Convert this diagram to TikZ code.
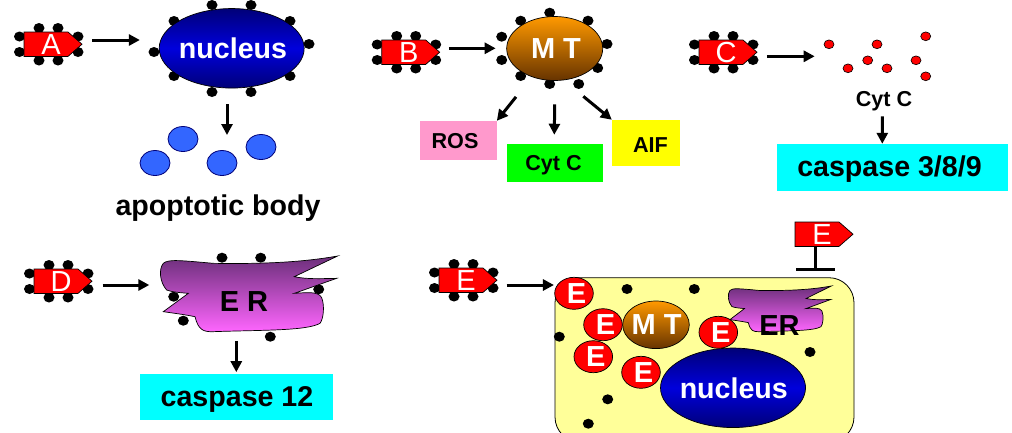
\documentclass[tikz,border=0pt]{standalone}
\usepackage{fontspec}
\setmainfont{Liberation Sans}
\usetikzlibrary{shapes.geometric,arrows.meta}
\newcommand{\fs}[1]{\fontsize{#1}{#1}\selectfont}
\definecolor{tagred}{HTML}{FF0000}
\definecolor{navyedge}{HTML}{000078}
\definecolor{nucmid}{HTML}{0000DC}
\definecolor{mttop}{HTML}{FF9900}
\definecolor{mtbottom}{HTML}{663300}
\definecolor{bodyblue}{HTML}{3366FF}
\definecolor{rospink}{HTML}{FF99CC}
\definecolor{cytgreen}{HTML}{00FF00}
\definecolor{aifyellow}{HTML}{FFFF00}
\definecolor{casecyan}{HTML}{00FFFF}
\definecolor{cellyellow}{HTML}{FFFF99}
\definecolor{ertop}{HTML}{6B2F7A}
\definecolor{erbottom}{HTML}{FF66FF}
\tikzset{
  link/.style={line width=3pt,-{Triangle[length=11pt,width=11pt]}},
  bead/.style={fill=black},
  tagshape/.style={draw=black,line width=0.7pt,fill=tagred},
  tagtext/.style={rectangle,minimum width=58pt,minimum height=24.4pt,inner sep=0pt,text=white,font=\fs{29}},
  nucleusnode/.style={ellipse,draw=black,line width=0.7pt,minimum width=145pt,minimum height=79.5pt,inner sep=0pt,
    top color=navyedge,bottom color=navyedge,middle color=nucmid},
  nucleustext/.style={text=white,font=\bfseries\fs{28.6},inner sep=0pt},
  mtnode/.style={ellipse,draw=black,line width=0.7pt,inner sep=0pt,top color=mttop,bottom color=mtbottom},
  mttext/.style={text=white,font=\bfseries\fs{29},inner sep=0pt},
  body/.style={ellipse,draw=navyedge,line width=0.8pt,fill=bodyblue,minimum width=30pt,minimum height=25pt,inner sep=0pt},
  labelbox/.style={rectangle,inner sep=0pt},
  caption/.style={text=black,font=\bfseries\fs{28.6},inner sep=0pt},
  smallcap/.style={text=black,font=\bfseries\fs{21.6},inner sep=0pt},
  redball/.style={ellipse,draw=black,line width=0.7pt,fill=tagred,minimum width=38.6pt,minimum height=32pt,inner sep=0pt,
    text=white,font=\bfseries\fs{29}},
  erfill/.style={draw=black,line width=0.7pt,top color=ertop,bottom color=erbottom},
  ertext/.style={text=black,font=\bfseries\fs{29},inner sep=0pt},
  cyt/.style={fill=tagred,draw=black,line width=0.6pt}
}
% black beads, each given as (x,y)
\newcommand{\beads}[1]{\foreach \p in {#1}{\fill[bead] \p ellipse [x radius=5.5pt,y radius=5pt];}}
% the eight beads round a tag whose upper left corner is at (#1,#2)
\newcommand{\tagbeads}[2]{\begin{scope}[shift={(#1,#2)}]
  \beads{(-4.5,4.5),(-4.5,20),(15,-4),(34,-4),(15,28.5),(34,28.5),(54,4.5),(54,20)}
\end{scope}}
% a pentagonal red tag: node name, upper left corner x and y, letter
\newcommand{\tagat}[4]{%
  \draw[tagshape,shift={(#2,#3)}] (0,0) -- (44,0) -- (58,12.2) -- (44,24.4) -- (0,24.4) -- cycle;
  \node[tagtext] (#1) at ({#2+29},{#3+12.2}) {\hspace*{-4pt}#4};}
% the endoplasmic reticulum outline; the box spans 533 by 227 units
\newcommand{\erpath}{(10,22) .. controls (25,10) and (50,12) .. (160,22)
  .. controls (300,24) and (420,20) .. (533,0) -- (403,62)
  .. controls (440,70) and (480,68) .. (530,67) -- (403,112)
  .. controls (440,110) and (475,105) .. (485,125)
  .. controls (495,150) and (490,190) .. (480,202)
  .. controls (440,225) and (300,222) .. (160,227)
  .. controls (130,228) and (115,222) .. (105,182)
  .. controls (70,175) and (30,170) .. (10,167) -- (85,112)
  .. controls (60,110) and (35,108) .. (20,102)
  .. controls (0,80) and (-5,40) .. (10,22) -- cycle}
\begin{document}
\begin{tikzpicture}[x=1pt,y=-1pt]
\useasboundingbox (0,0) rectangle (1012,432);

% --- panel A: nucleus ---
\tagbeads{24}{32}
\tagat{tagA}{24}{32}{A}
\beads{(212,5),(251,5),(174,21),(290,21),(154,52),(309,44),(174,76),(290,76),(212,92),(251,92)}
\node[nucleusnode] (nucA) at (231.7,48.3) {};
\node[nucleustext] at (233,48.3) {nucleus};
\draw[link] ([xshift=10pt,yshift=4.2pt]tagA.east) -- ([xshift=-19pt,yshift=8.3pt]nucA.west);
\node[body] (b1) at (183,139) {};
\node[body] (b2) at (155,163) {};
\node[body] (b3) at (222,163) {};
\node[body] (b4) at (261,147) {};
\node[caption,anchor=base] (apo) at (218,215) {apoptotic body};
\coordinate (bodyTop) at (227,135);
\draw[link] ([xshift=-4.7pt,yshift=-15.7pt]nucA.south) -- (bodyTop);

% --- panel B: mitochondrion ---
\tagbeads{381.7}{40}
\tagat{tagB}{381.7}{40}{B}
\beads{(549.7,12.7),(520.7,20.7),(588,20.7),(501.7,36.7),(501.7,60),(607,44),(597.7,68),(520.7,76),(549.7,84),(578.7,84)}
\node[mtnode,minimum width=96pt,minimum height=64pt] (mtB) at (554.7,48.5) {};
\node[mttext] at (556,48.5) {M T};
\draw[link] ([xshift=9pt,yshift=3.9pt]tagB.east) -- ([xshift=-10.7pt,yshift=0.2pt]mtB.west);
\node[labelbox,fill=rospink,minimum width=76.7pt,minimum height=39pt] (ros) at (458.3,140.5) {};
\node[smallcap,anchor=base] at (455,148) {ROS};
\node[labelbox,fill=cytgreen,minimum width=96pt,minimum height=38.3pt] (cytB) at (555,162.8) {};
\node[smallcap,anchor=base] at (553.5,170) {Cyt C};
\node[labelbox,fill=aifyellow,minimum width=68pt,minimum height=45.7pt] (aif) at (646,142.8) {};
\node[smallcap,anchor=base] at (650.5,152) {AIF};
\draw[link] ([xshift=-38.7pt,yshift=-16pt]mtB.south) -- (ros.north east);
\draw[link] ([yshift=-23.5pt]mtB.south) -- ([yshift=8.7pt,xshift=-0.7pt]cytB.north);
\draw[link] ([xshift=28.6pt,yshift=-15.5pt]mtB.south) -- (aif.north west);

% --- panel C: cytochrome c release ---
\tagbeads{699}{40}
\tagat{tagC}{699}{40}{C}
\foreach \p in {(829,44.3),(877,44.3),(925.7,36.3),(867.7,60.3),(916,60.3),(848,68.3),(887,68.3),(925.7,76.3)}
  \draw[cyt] \p ellipse [x radius=5pt,y radius=4.4pt];
\node[smallcap,anchor=base] (cytC) at (884,106.7) {Cyt C};
\coordinate (cloud) at (814.7,56.3);
\draw[link] (tagC.east |- cloud) ++(9.7,0) -- (cloud);
\node[labelbox,fill=casecyan,minimum width=231.3pt,minimum height=47pt] (cas389) at (892.4,167.5) {};
\node[caption,anchor=base] at (889.5,176.7) {caspase 3/8/9};
\draw[link] ([xshift=-1.7pt,yshift=-5pt]cytC.south) -- ([xshift=-10.1pt]cas389.north);

% --- panel D: endoplasmic reticulum ---
\tagbeads{34}{269}
\tagat{tagD}{34}{269}{D}
\beads{(222,257.7),(260.7,257.7),(173.7,296.7),(318.7,289.3),(183.3,320.7),(270.3,336.7)}
\draw[erfill,shift={(160,256)},x=0.3333pt,y=-0.3333pt] \erpath;
\node[ertext,anchor=base] (erD) at (244,311) {E R};
\node[labelbox,fill=casecyan,minimum width=193pt,minimum height=46.3pt] (cas12) at (236.8,396.8) {};
\node[caption,anchor=base] at (237,406.7) {caspase 12};
\draw[link] ([xshift=-7.7pt,yshift=-29.7pt]erD.south) -- ([xshift=-0.5pt,yshift=1.3pt]cas12.north);
\coordinate (erEntry) at (149.3,285);
\draw[link] (tagD.east |- erEntry) ++(10.3,0) -- (erEntry);

% --- panel E: whole cell ---
\begin{scope}
  \clip (0,0) rectangle (1012,432);
  \draw[fill=cellyellow,draw=black,line width=0.8pt,rounded corners=25pt] (555,277.7) rectangle (854,442);
\end{scope}
\beads{(627,289),(694.3,289),(559.3,336.7),(810,352),(607.7,399.3),(588.3,423.7)}
\node[mtnode,minimum width=66.6pt,minimum height=47.6pt] (mtE) at (656,324.8) {};
\node[mttext] at (656.7,324.8) {M T};
\draw[erfill,shift={(728,286)},x=0.1938pt,y=-0.2013pt] \erpath;
\node[ertext,anchor=base] at (779.5,335) {ER};
\node[nucleusnode] (nucE) at (733,387.8) {};
\node[nucleustext] at (733.8,387.8) {nucleus};
\node[redball] (e1) at (574,293.3) {\hspace*{5pt}E};
\node[redball] (e2) at (603,324.7) {\hspace*{5pt}E};
\node[redball] (e3) at (593.3,356.7) {\hspace*{5pt}E};
\node[redball] (e4) at (641,372.3) {\hspace*{5pt}E};
\node[redball] (e5) at (718.3,332.3) {\hspace*{5pt}E};
\tagbeads{439}{268}
\tagat{tagE}{439}{268}{E}
\draw[link] ([xshift=9.3pt,yshift=-4.8pt]tagE.east) -- ([xshift=-0.4pt,yshift=8.3pt]e1.west);
\tagat{tagI}{795}{222}{E}
\coordinate (cellTop) at (815,270.8);
\draw[line width=3pt,-{Bar[width=39pt,line width=3pt]}] (tagI.south -| cellTop) -- (cellTop);
\end{tikzpicture}
\end{document}
